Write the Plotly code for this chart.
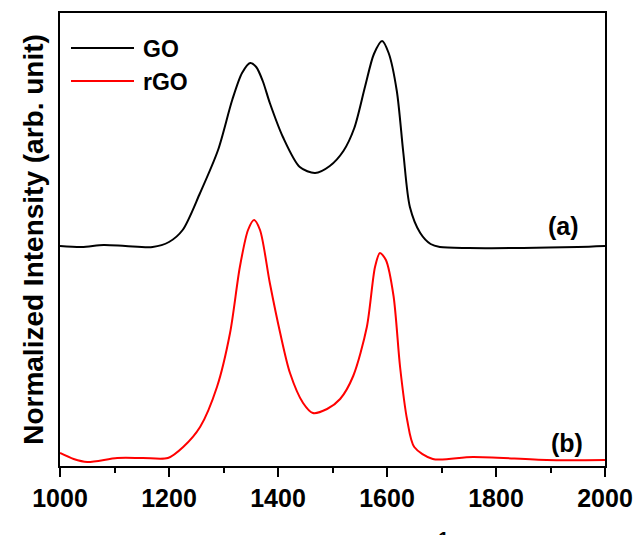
import plotly.graph_objects as go

# Raman shift (cm^-1) and normalized intensity (arb. units)
go_shift = [1000, 1040, 1080, 1120, 1170, 1200, 1225, 1257, 1290, 1316, 1334, 1349, 1360, 1372,
            1385, 1409, 1440, 1468, 1495, 1520, 1540, 1560, 1576, 1591, 1603, 1618, 1630, 1642,
            1661, 1680, 1697, 1750, 1850, 1950, 2000]
go_int = [220, 219, 221, 220, 219, 224, 236, 273, 316, 366, 393, 403, 399, 385,
          363, 329, 299, 293, 300, 315, 338, 380, 412, 425, 413, 375, 313, 259,
          233, 222, 219, 218, 218, 219, 220]

rgo_shift = [1000, 1025, 1050, 1105, 1152, 1198, 1226, 1257, 1288, 1312, 1330, 1345, 1356, 1367,
             1385, 1404, 1422, 1446, 1464, 1490, 1514, 1538, 1563, 1578, 1587, 1598, 1612,
             1624, 1637, 1650, 1684, 1758, 1893, 2000]
rgo_int = [13, 7, 4, 8, 8, 8, 19, 39, 79, 133, 199, 236, 246, 236,
           183, 133, 93, 63, 53, 57, 67, 90, 139, 199, 213, 206, 170,
           99, 46, 19, 7, 9, 6, 6]

series_names = ["GO", "rGO"]
series_colors = ["#000000", "#ff0000"]
panel_labels = ["(a)", "(b)"]
x_ticks = [1000, 1200, 1400, 1600, 1800, 2000]

W, H = 636, 535
L, R, T, B = 60, 605, 13, 466

def px(x):
    return (x - L) / (R - L)

def py(y):
    return (B - y) / (B - T)

FONT = "Liberation Sans, Arial, sans-serif"

fig = go.Figure()
fig.add_trace(go.Scatter(x=go_shift, y=go_int, mode="lines", name=series_names[0],
                         line=dict(color=series_colors[0], width=2, shape="spline", smoothing=0.8)))
fig.add_trace(go.Scatter(x=rgo_shift, y=rgo_int, mode="lines", name=series_names[1],
                         line=dict(color=series_colors[1], width=2, shape="spline", smoothing=0.8)))

# manual legend
for name, col, yy in zip(series_names, series_colors, [48, 81]):
    fig.add_shape(type="line", xref="paper", yref="paper", x0=px(71), x1=px(134),
                  y0=py(yy), y1=py(yy), line=dict(color=col, width=2))
    fig.add_annotation(xref="paper", yref="paper", x=px(141), y=py(yy + 1), text=name,
                       showarrow=False, xanchor="left", yanchor="middle",
                       font=dict(family=FONT, size=23, color="black", weight="bold"))

for lab, (xx, yy) in zip(panel_labels, [(563, 226), (567, 443)]):
    fig.add_annotation(xref="paper", yref="paper", x=px(xx), y=py(yy), text=lab,
                       showarrow=False, xanchor="center", yanchor="middle",
                       font=dict(family=FONT, size=25, color="black", weight="bold"))

# x-axis title, mostly below the visible page (only the top of the superscript shows)
fig.add_annotation(xref="paper", yref="paper", x=px(338), y=py(526), text="Raman Shift (cm<sup>-1</sup>)",
                   showarrow=False, xanchor="center", yanchor="top",
                   font=dict(family=FONT, size=27, color="black", weight="bold"))

fig.update_layout(
    width=W, height=H,
    margin=dict(l=L, r=W - R, t=T, b=H - B),
    paper_bgcolor="white", plot_bgcolor="white",
    showlegend=False,
    font=dict(family=FONT, color="black"),
)
fig.update_xaxes(
    range=[1000, 2000], tickvals=x_ticks, ticktext=[str(v) for v in x_ticks],
    showgrid=False, zeroline=False,
    showline=True, linecolor="black", linewidth=2, mirror=True,
    ticks="outside", ticklen=9, tickwidth=2, tickcolor="black",
    minor=dict(dtick=100, tick0=1000, ticks="outside", ticklen=5, tickwidth=2, tickcolor="black", showgrid=False),
    tickfont=dict(family=FONT, size=25, color="black", weight="bold"),
    automargin=False,
)
fig.update_yaxes(
    range=[0, B - T], showticklabels=False, ticks="",
    showgrid=False, zeroline=False,
    showline=True, linecolor="black", linewidth=2, mirror=True,
    title=dict(text="Normalized Intensity (arb. unit)", standoff=6,
               font=dict(family=FONT, size=28, color="black", weight="bold")),
    automargin=False,
)

fig.write_html("out.html")
